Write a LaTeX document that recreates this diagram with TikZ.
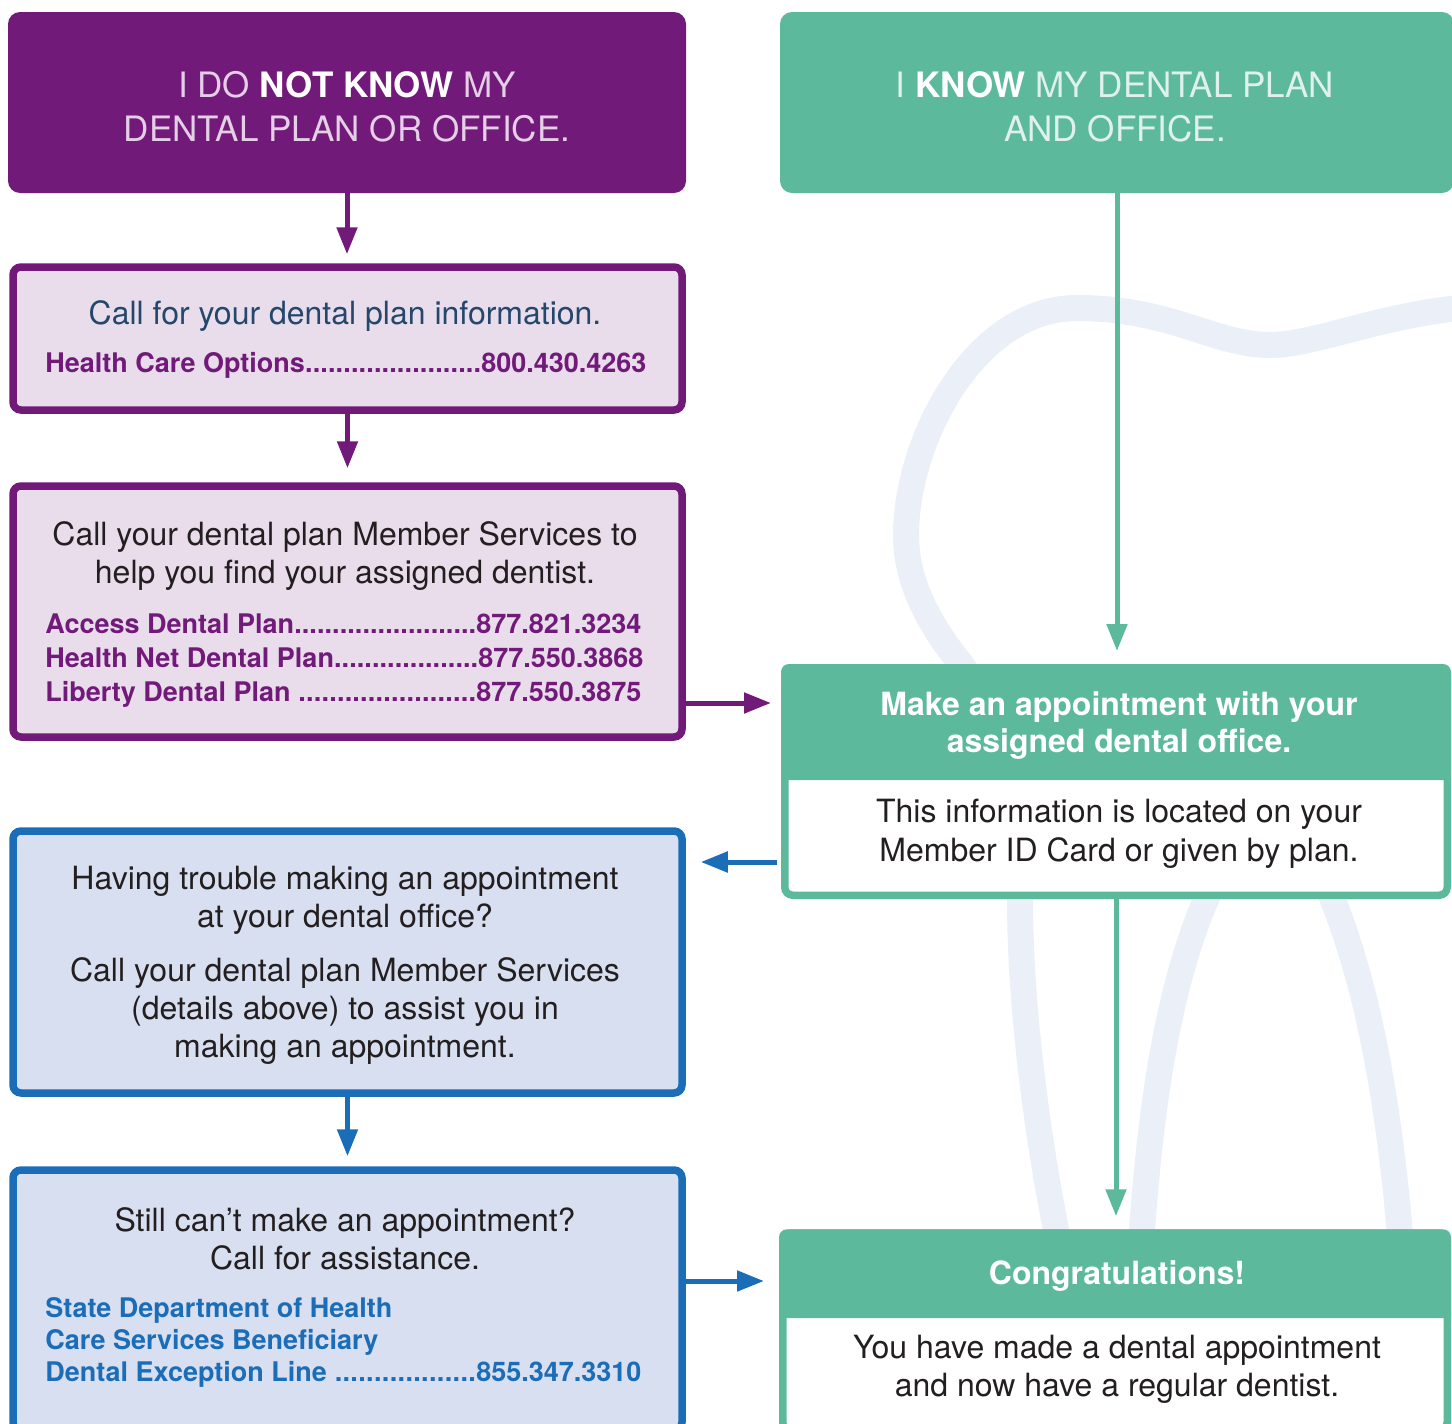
\documentclass[tikz,border=0pt]{standalone}
\usepackage{fontspec}
\setmainfont{TeX Gyre Heros}
\usetikzlibrary{arrows.meta}

\definecolor{planpurple}{HTML}{721A7A}
\definecolor{planlilac}{HTML}{E9DDEC}
\definecolor{headpink}{HTML}{E4CFE6}
\definecolor{okgreen}{HTML}{5DB99C}
\definecolor{headmint}{HTML}{DFF1EA}
\definecolor{helpblue}{HTML}{1B6DB7}
\definecolor{helpfill}{HTML}{D8DFF0}
\definecolor{toothblue}{HTML}{EAEFF8}
\definecolor{navytext}{HTML}{24476B}
\definecolor{inktext}{HTML}{231F20}

\newcommand\dialrow[3][298pt]{\hbox to #1{#2\xleaders\hbox{.}\hfill #3}}

\begin{document}
\begin{tikzpicture}[x=0.5pt, y=-0.5pt,
	headbox/.style={rectangle, rounded corners=6pt, inner sep=0pt, minimum height=90.5pt},
	planbox/.style={rectangle, rounded corners=4pt, draw=planpurple, fill=planlilac, line width=3.75pt, inner sep=0pt, minimum width=334.5pt},
	helpbox/.style={planbox, draw=helpblue, fill=helpfill},
	okbox/.style={rectangle, rounded corners=4pt, draw=okgreen, fill=white, line width=3.75pt, inner sep=0pt},
	parrow/.style={-{Triangle[width=10pt,length=13.5pt]}, line width=2.5pt, draw=planpurple},
	barrow/.style={parrow, draw=helpblue},
	garrow/.style={parrow, draw=okgreen},
	toothline/.style={line width=13pt, draw=toothblue},
	headtext/.style={anchor=base, align=center, inner sep=0pt, font=\fontsize{17.5pt}{22pt}\selectfont},
	bodytext/.style={anchor=base, align=center, inner sep=0pt, text=inktext, font=\fontsize{16pt}{19pt}\selectfont},
	oktext/.style={bodytext, text=white, font=\bfseries\fontsize{16pt}{18.5pt}\selectfont},
	dialtext/.style={anchor=base west, align=left, inner sep=0pt, font=\bfseries\fontsize{13.5pt}{17pt}\selectfont},
	]
		\useasboundingbox (0,0) rectangle (1452,1424);
		% tooth outline behind the chart
		\draw[toothline] (1500,306) .. controls (1400,306) and (1320,345) .. (1270,345)
			.. controls (1215,345) and (1170,308) .. (1077,308)
			.. controls (975,308) and (906,440) .. (906,535)
			.. controls (906,585) and (932,628) .. (961,664)
			.. controls (1000,720) and (1020,800) .. (1020,900)
			.. controls (1020,1000) and (1035,1130) .. (1062,1260);
		\draw[toothline] (1140,1260) .. controls (1150,1100) and (1170,960) .. (1225,860)
			.. controls (1250,815) and (1290,815) .. (1315,860)
			.. controls (1365,960) and (1390,1100) .. (1402,1260);

		\node[headbox, fill=planpurple, minimum width=339pt] (head1) at (347,102.5) {};
		\node[headbox, fill=okgreen, minimum width=337pt] (head2) at (1117,102.5) {};
		\node[planbox, minimum height=71.5pt] (box2) at (347.5,338.5) {};
		\node[planbox, minimum height=125.5pt] (box3) at (347.5,611.5) {};
		\node[helpbox, minimum height=131pt] (box4) at (347.5,962) {};
		\node[helpbox, minimum height=130pt] (box5) at (347.5,1300) {};
		\node[okbox, minimum width=331.25pt, minimum height=113.75pt] (gbox1) at (1116,781.5) {};
		\node[okbox, minimum width=332.25pt, minimum height=98.5pt] (gbox2) at (1115,1331.5) {};

		% green title bands
		\coordinate (band1) at (0,780);
		\coordinate (band2) at (0,1318);
		\fill[okgreen] (gbox1.west |- band1) [rounded corners=4pt] -- (gbox1.north west) -- (gbox1.north east) [sharp corners] -- (gbox1.east |- band1) -- cycle;
		\fill[okgreen] (gbox2.west |- band2) [rounded corners=4pt] -- (gbox2.north west) -- (gbox2.north east) [sharp corners] -- (gbox2.east |- band2) -- cycle;

		% connectors
		\coordinate (a3) at ([yshift=-45.75pt]box3.east);
		\coordinate (b1) at ([yshift=-40.25pt]gbox1.west);
		\coordinate (b2) at ([yshift=9.5pt]box5.east);
		\draw[parrow, shorten >=4.5pt] (head1.south) -- (head1.south |- box2.north);
		\draw[parrow, shorten >=7pt] (box2.south) -- (box3.north);
		\draw[parrow, shorten >=5pt] (a3) -- (a3 -| gbox1.west);
		\draw[barrow, shorten <=1.875pt, shorten >=7.5pt] (b1) -- (b1 -| box4.east);
		\draw[barrow, shorten >=5pt] (box4.south) -- (box5.north);
		\draw[barrow, shorten >=7.5pt] (b2) -- (b2 -| gbox2.west);
		\draw[garrow, shorten >=6.5pt] (head2.south) -- (head2.south |- gbox1.north);
		\draw[garrow, shorten >=6.5pt] (gbox1.south) -- (gbox1.south |- gbox2.north);

		% texts (base = baseline of the last line)
		\node[headtext, text=headpink] (head1txt) at (347,141) {I DO \textbf{\color{white}NOT KNOW} MY\\DENTAL PLAN OR OFFICE.};
		\node[headtext, text=headmint] (head2txt) at (1115,141) {I \textbf{\color{white}KNOW} MY DENTAL PLAN\\AND OFFICE.};
		\node[bodytext, text=navytext] (box2txt) at (345,324) {Call for your dental plan information.};
		\node[dialtext, text=planpurple] (box2dial) at (45,372) {\dialrow[300.5pt]{Health Care Options}{800.430.4263}};
		\node[bodytext] (box3txt) at (345,583) {Call your dental plan Member Services to\\help you find your assigned dentist.};
		\node[dialtext, text=planpurple] (box3dial) at (45,701) {\dialrow{Access Dental Plan}{877.821.3234}\\\dialrow[299pt]{Health Net Dental Plan}{877.550.3868}\\\dialrow{Liberty Dental Plan }{877.550.3875}};
		\node[oktext] (gbox1head) at (1119,752) {Make an appointment with your\\assigned dental office.};
		\node[bodytext, font=\fontsize{16pt}{19.5pt}\selectfont] (gbox1txt) at (1119,861) {This information is located on your\\Member ID Card or given by plan.};
		\node[bodytext] (box4txt) at (345,1057) {Having trouble making an appointment\\at your dental office?\\[8pt]Call your dental plan Member Services\\(details above) to assist you in\\making an appointment.};
		\node[bodytext, font=\fontsize{16pt}{18.75pt}\selectfont] (box5txt) at (345,1269) {Still can’t make an appointment?\\Call for assistance.};
		\node[dialtext, text=helpblue, font=\bfseries\fontsize{13.5pt}{16pt}\selectfont] (box5dial) at (45,1381) {State Department of Health\\Care Services Beneficiary\\\dialrow{Dental Exception Line }{855.347.3310}};
		\node[oktext] (gbox2head) at (1117,1284) {Congratulations!};
		\node[bodytext] (gbox2txt) at (1117,1396) {You have made a dental appointment\\and now have a regular dentist.};
	\end{tikzpicture}
\end{document}
